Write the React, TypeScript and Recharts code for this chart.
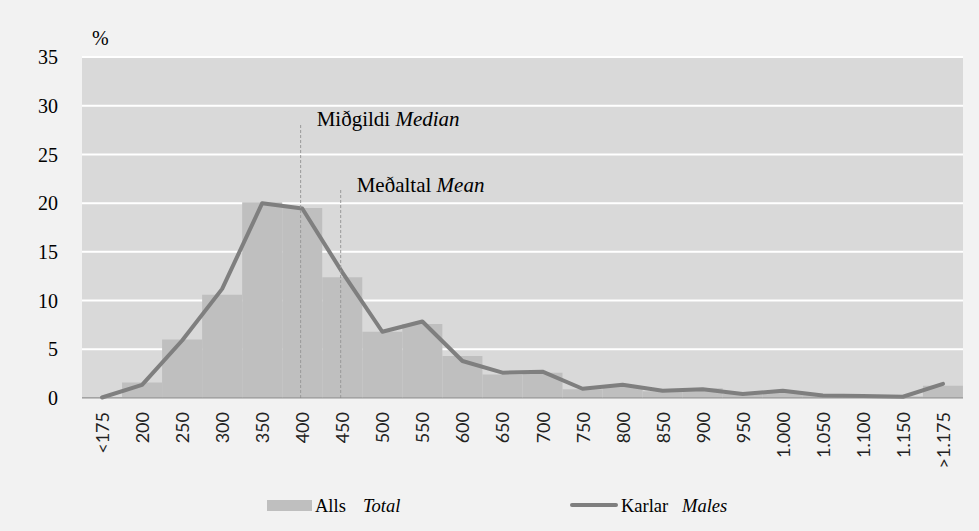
import React from "react";
import { Bar, CartesianGrid, ComposedChart, Line, ReferenceLine, XAxis, YAxis } from "recharts";

// data
const categories = ["<175", "200", "250", "300", "350", "400", "450", "500", "550", "600", "650", "700", "750", "800", "850", "900", "950", "1.000", "1.050", "1.100", "1.150", ">1.175"];
const totalValues = [0.1, 1.6, 6.0, 10.6, 20.1, 19.5, 12.4, 6.8, 7.6, 4.3, 2.4, 2.6, 0.9, 1.2, 0.7, 1.0, 0.4, 0.7, 0.3, 0.2, 0.15, 1.25];
const maleValues = [0.05, 1.35, 5.9, 11.2, 20.0, 19.45, 12.9, 6.8, 7.85, 3.8, 2.6, 2.7, 0.95, 1.35, 0.75, 0.9, 0.4, 0.75, 0.25, 0.2, 0.13, 1.45];
const yTicks = [0, 5, 10, 15, 20, 25, 30, 35];

// median / mean markers, position in category units
const markerNames = ["Miðgildi", "Meðaltal"];
const markerNamesEn = ["Median", "Mean"];
const markerPositions = [5.46, 6.46];
const markerTops = [28.2, 21.45];

const chartData = categories.map((cat, i) => ({ cat, idx: i + 0.5, total: totalValues[i], males: maleValues[i] }));

const SERIF = '"Liberation Serif", serif';
const SANS = 'Lato, "Open Sans", sans-serif';

function XTick({ x, y, payload }: any) {
  return (
    <g transform={`translate(${x},${y + 14})`}>
      <text transform="rotate(-90)" textAnchor="end" dominantBaseline="central" fontFamily={SANS} fontSize={18} fill="#222">
        {payload.value}
      </text>
    </g>
  );
}

function markerLabel(name: string, en: string) {
  return (props: any) => {
    const vb = props.viewBox || {};
    return (
      <text x={vb.x + 16} y={vb.y + 3} style={{ fontFamily: SERIF }} fontSize={21} fill="#000">
        {name} <tspan fontStyle="italic">{en}</tspan>
      </text>
    );
  };
}

function percentLabel(props: any) {
  const vb = props.viewBox || {};
  return (
    <text x={vb.x + vb.width + 10} y={vb.y - 12} style={{ fontFamily: SERIF }} fontSize={20} fill="#000">
      %
    </text>
  );
}

export default function App() {
  return (
    <div style={{ position: "absolute", left: 0, top: 0, width: 979, height: 531, background: "#f2f2f2" }}>
      <ComposedChart width={979} height={531} data={chartData} barCategoryGap={0} margin={{ top: 57, right: 16, left: 0, bottom: 0 }}>
        <CartesianGrid vertical={false} stroke="#ffffff" strokeWidth={2} fill="#d9d9d9" />
        <XAxis dataKey="cat" interval={0} height={133} tickSize={0} tickMargin={0} tick={<XTick />} axisLine={{ stroke: "#868686" }} tickLine={false} />
        <XAxis xAxisId="num" dataKey="idx" type="number" domain={[0, categories.length]} allowDataOverflow hide />
        <YAxis
          domain={[0, 35]}
          ticks={yTicks}
          width={82}
          axisLine={false}
          tickLine={false}
          tickSize={0}
          tickMargin={24}
          tick={{ fontFamily: SERIF, fontSize: 20, fill: "#000" }}
          label={percentLabel}
        />
        <Bar dataKey="total" fill="#bfbfbf" isAnimationActive={false} />
        <Line dataKey="males" type="linear" stroke="#7f7f7f" strokeWidth={4} dot={false} strokeLinecap="round" strokeLinejoin="round" isAnimationActive={false} />
        {markerPositions.map((pos, i) => (
          <ReferenceLine
            key={markerNames[i]}
            xAxisId="num"
            segment={[{ x: pos, y: 0 }, { x: pos, y: markerTops[i] }]}
            stroke="#999999"
            strokeDasharray="3 2"
            label={markerLabel(markerNames[i], markerNamesEn[i])}
          />
        ))}
      </ComposedChart>
      <div style={{ position: "absolute", left: 0, top: 494, width: 979, height: 26, fontFamily: SERIF, fontSize: 18.5, color: "#000", lineHeight: "24px", whiteSpace: "nowrap" }}>
        <div style={{ position: "absolute", left: 267, top: 6, width: 45, height: 11, background: "#bfbfbf" }} />
        <div style={{ position: "absolute", left: 315, top: 0 }}>Alls</div>
        <div style={{ position: "absolute", left: 363, top: 0, fontStyle: "italic" }}>Total</div>
        <div style={{ position: "absolute", left: 570, top: 9, width: 48, height: 4, borderRadius: 2, background: "#7f7f7f" }} />
        <div style={{ position: "absolute", left: 621, top: 0 }}>Karlar</div>
        <div style={{ position: "absolute", left: 682, top: 0, fontStyle: "italic" }}>Males</div>
      </div>
    </div>
  );
}
